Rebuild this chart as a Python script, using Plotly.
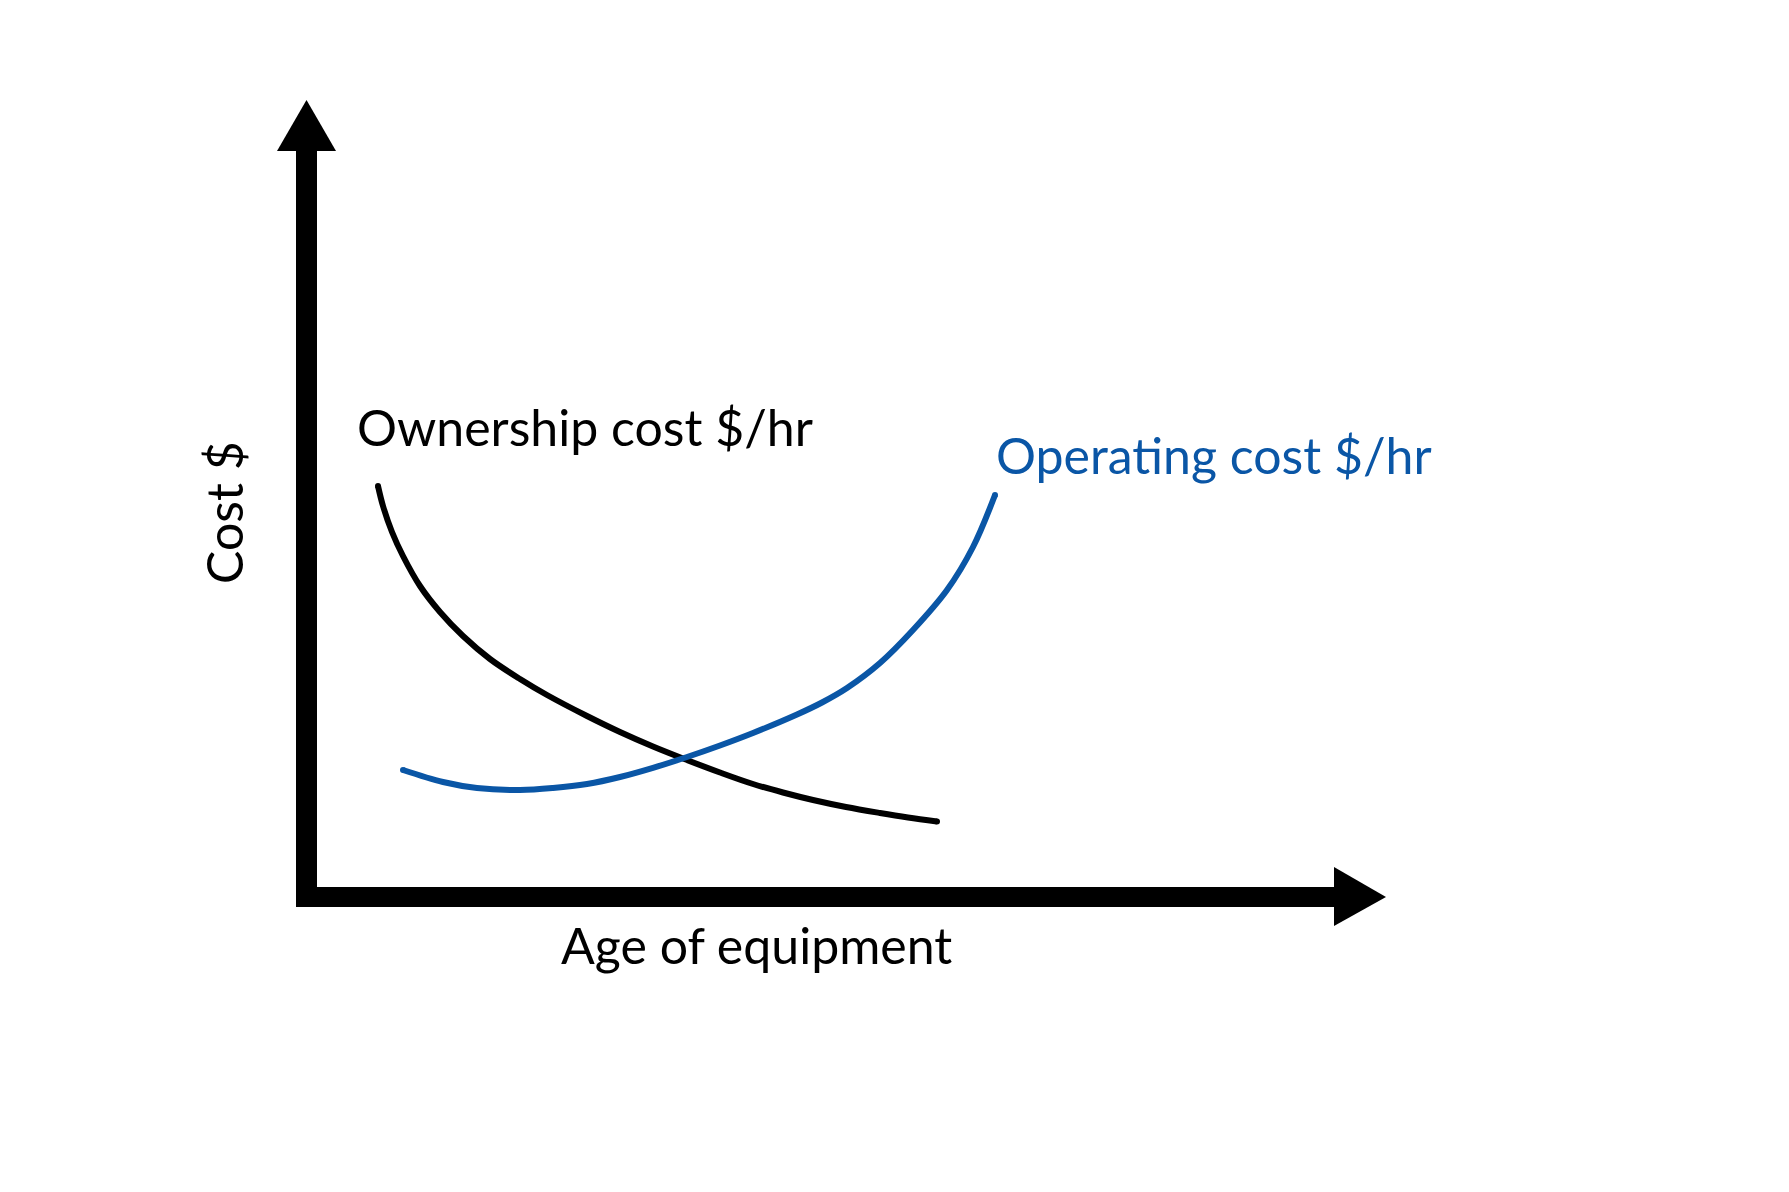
import plotly.graph_objects as go

# conceptual cost curves, units = age / cost with origin at the axis corner
ownership_age = [0.715, 0.765, 0.855, 0.965, 1.135, 1.335, 1.565, 1.835, 2.135, 2.405, 2.805, 3.135, 3.465,
                 3.765, 4.135, 4.465, 4.765, 5.065, 5.395, 5.735, 6.015, 6.305]
ownership_cost = [4.11, 3.91, 3.65, 3.41, 3.11, 2.85, 2.61, 2.38, 2.18, 2.02, 1.81, 1.65, 1.505,
                  1.385, 1.245, 1.13, 1.045, 0.97, 0.90, 0.84, 0.795, 0.755]

operating_age = [0.965, 1.365, 1.705, 2.135, 2.465, 2.805, 3.135, 3.465, 3.805, 4.135, 4.465, 4.905,
                 5.155, 5.405, 5.735, 6.065, 6.405, 6.665, 6.885]
operating_cost = [1.27, 1.15, 1.09, 1.07, 1.09, 1.13, 1.20, 1.292, 1.40, 1.515, 1.64, 1.825,
                  1.945, 2.09, 2.34, 2.67, 3.07, 3.50, 4.02]

x_label = "Age of equipment"
y_label = "Cost $"
ownership_label = "Ownership cost $/hr"
operating_label = "Operating cost $/hr"

BLUE = "#0a56a6"
FONT = "Lato"
LINE_W = 6

fig = go.Figure()

for xs, ys, col in [(ownership_age, ownership_cost, "black"), (operating_age, operating_cost, BLUE)]:
    fig.add_trace(go.Scatter(
        x = xs,
        y = ys,
        mode = "lines",
        line = dict(color = col, width = LINE_W, shape = "spline", smoothing = 1, simplify = False),
        hoverinfo = "skip"
    ))
    # round caps at both ends
    fig.add_trace(go.Scatter(
        x = [xs[0], xs[-1]],
        y = [ys[0], ys[-1]],
        mode = "markers",
        marker = dict(color = col, size = LINE_W, line = dict(width = 0)),
        hoverinfo = "skip"
    ))

# axis shafts and arrow heads
fig.add_shape(type = "rect", x0 = -0.105, x1 = 0.105, y0 = -0.10, y1 = 7.47,
              fillcolor = "black", line = dict(width = 0), layer = "below")
fig.add_shape(type = "rect", x0 = -0.105, x1 = 10.28, y0 = -0.10, y1 = 0.10,
              fillcolor = "black", line = dict(width = 0), layer = "below")
fig.add_shape(type = "path", path = "M -0.295 7.46 L 0 7.97 L 0.295 7.46 Z",
              fillcolor = "black", line = dict(width = 0))
fig.add_shape(type = "path", path = "M 10.275 0.30 L 10.795 0 L 10.275 -0.29 Z",
              fillcolor = "black", line = dict(width = 0))

fig.add_annotation(x = 0.485, y = 4.70, text = ownership_label, showarrow = False,
                   xanchor = "left", yanchor = "middle",
                   font = dict(family = FONT, size = 50, color = "black"))
fig.add_annotation(x = 6.875, y = 4.42, text = operating_label, showarrow = False,
                   xanchor = "left", yanchor = "middle",
                   font = dict(family = FONT, size = 50, color = BLUE))
fig.add_annotation(x = 4.495, y = -0.48, text = x_label, showarrow = False,
                   xanchor = "center", yanchor = "middle",
                   font = dict(family = FONT, size = 50, color = "black"))
fig.add_annotation(x = -0.825, y = 3.84, text = y_label, showarrow = False,
                   textangle = -90, xanchor = "center", yanchor = "middle",
                   font = dict(family = FONT, size = 50, color = "black"))

fig.update_layout(
    width = 1789,
    height = 1192,
    margin = dict(l = 0, r = 0, t = 0, b = 0),
    plot_bgcolor = "white",
    paper_bgcolor = "white",
    showlegend = False
)

# ranges offset by ~8px to compensate for the page margin
fig.update_xaxes(range = [-2.985, 14.905], visible = False, fixedrange = True)
fig.update_yaxes(range = [-3.03, 8.89], visible = False, fixedrange = True)

fig.write_html("out.html")
